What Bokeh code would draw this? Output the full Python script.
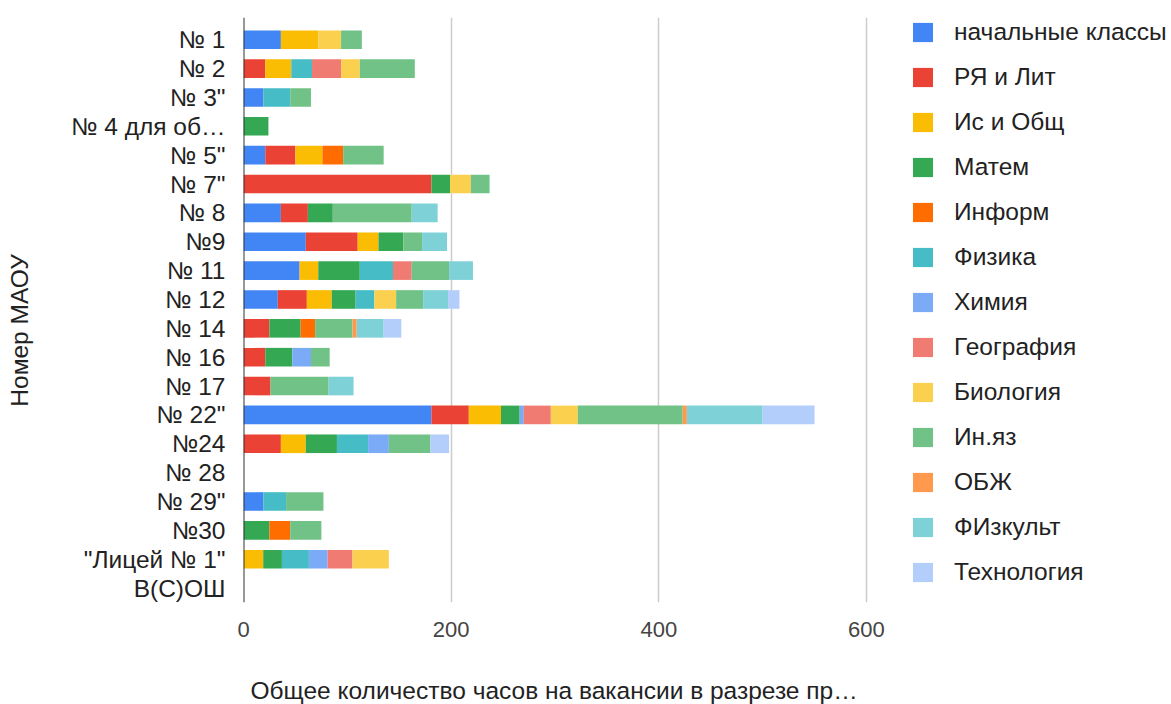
import math
from bokeh.plotting import figure
from bokeh.models import Range1d, FixedTicker, Span, Legend, LegendItem, Title
from bokeh.embed import file_html
from bokeh.resources import INLINE

schools = ["№ 1", "№ 2", "№ 3\"", "№ 4 для об…", "№ 5\"", "№ 7\"", "№ 8", "№9", "№ 11", "№ 12",
           "№ 14", "№ 16", "№ 17", "№ 22\"", "№24", "№ 28", "№ 29\"", "№30", "\"Лицей № 1\"", "В(С)ОШ"]

subjects = ["начальные классы", "РЯ и Лит", "Ис и Общ", "Матем", "Информ", "Физика", "Химия",
            "География", "Биология", "Ин.яз", "ОБЖ", "ФИзкульт", "Технология"]

nach = [36, 0, 19, 0, 21, 0, 36, 60, 54, 33, 0, 0, 0, 181, 0, 0, 19, 0, 0, 0]
rya = [0, 21, 0, 0, 29, 181, 26, 50, 0, 28, 25, 21, 26, 36, 36, 0, 0, 0, 0, 0]
isobsh = [36, 25, 0, 0, 26, 0, 0, 20, 18, 24, 0, 0, 0, 31, 24, 0, 0, 0, 19, 0]
matem = [0, 0, 0, 24, 0, 18, 24, 24, 40, 23, 30, 26, 0, 18, 30, 0, 0, 25, 18, 0]
inform = [0, 0, 0, 0, 20, 0, 0, 0, 0, 0, 14, 0, 0, 0, 0, 0, 0, 20, 0, 0]
fizika = [0, 20, 26, 0, 0, 0, 0, 0, 32, 18, 0, 0, 0, 0, 30, 0, 22, 0, 26, 0]
himiya = [0, 0, 0, 0, 0, 0, 0, 0, 0, 0, 0, 18, 0, 4, 20, 0, 0, 0, 18, 0]
geografiya = [0, 28, 0, 0, 0, 0, 0, 0, 18, 0, 0, 0, 0, 26, 0, 0, 0, 0, 24, 0]
biologiya = [22, 18, 0, 0, 0, 20, 0, 0, 0, 21, 0, 0, 0, 26, 0, 0, 0, 0, 35, 0]
inyaz = [20, 53, 20, 0, 39, 18, 76, 18, 36, 26, 36, 18, 56, 101, 40, 0, 36, 30, 0, 0]
obzh = [0, 0, 0, 0, 0, 0, 0, 0, 0, 0, 4, 0, 0, 4, 0, 0, 0, 0, 0, 0]
fizkult = [0, 0, 0, 0, 0, 0, 25, 24, 23, 24, 26, 0, 24, 73, 0, 0, 0, 0, 0, 0]
tehnologiya = [0, 0, 0, 0, 0, 0, 0, 0, 0, 11, 17, 0, 0, 50, 18, 0, 0, 0, 0, 0]

series = [nach, rya, isobsh, matem, inform, fizika, himiya, geografiya, biologiya, inyaz, obzh, fizkult, tehnologiya]

colors = ["#4285f4", "#ea4335", "#fbbc04", "#34a853", "#ff6d01", "#46bdc6", "#7baaf7",
          "#f07b72", "#fcd04f", "#71c287", "#ff994d", "#7ed1d7", "#b3cefb"]

x_ticks = [0, 200, 400, 600]
x_title = "Общее количество часов на вакансии в разрезе пр…"
y_title = "Номер МАОУ"

FONT = "Liberation Sans"
TXT = "24.5px"

# rows from top to bottom: first school at the top
n = len(schools)
ypos = [n - 1 - i for i in range(n)]

keys = [f"s{i}" for i in range(len(subjects))]
data = {"y": ypos}
for k, s in zip(keys, series):
    data[k] = s

p = figure(width=1171, height=704, output_backend="svg", toolbar_location=None,
           y_range=Range1d(-0.5, n - 1 + 0.77),
           x_range=Range1d(0, 893.8),
           min_border_left=243, min_border_right=0, min_border_top=17, min_border_bottom=101)
p.outline_line_color = None
p.background_fill_color = "white"
p.border_fill_color = "white"

renderers = p.hbar_stack(keys, y="y", height=0.645, color=colors, source=data, line_color=None)

p.xaxis.ticker = FixedTicker(ticks=x_ticks)
p.xaxis.axis_line_color = None
p.xaxis.major_tick_line_color = None
p.xaxis.minor_tick_line_color = None
p.xaxis.major_label_text_font = FONT
p.xaxis.major_label_text_font_size = "22px"
p.xaxis.major_label_text_color = "#444444"
p.xaxis.major_label_standoff = 13
p.xaxis.axis_label = " "
p.xaxis.axis_label_text_font_size = "2px"
p.xaxis.axis_label_standoff = 29

p.add_layout(Title(text=x_title, align="left", offset=7, standoff=2, vertical_align="bottom",
                   text_font=FONT, text_font_size=TXT, text_font_style="normal",
                   text_color="#222222"), "below")

p.yaxis.ticker = FixedTicker(ticks=ypos)
p.yaxis.major_label_overrides = {y: s for y, s in zip(ypos, schools)}
p.yaxis.axis_line_color = None
p.yaxis.major_tick_line_color = None
p.yaxis.minor_tick_line_color = None
p.yaxis.major_label_text_font = FONT
p.yaxis.major_label_text_font_size = TXT
p.yaxis.major_label_text_color = "#222222"
p.yaxis.major_label_standoff = 12
# trailing no-break spaces shift the centred title down to where the reference has it
p.yaxis.axis_label = y_title + "\u00a0" * 6
p.yaxis.axis_label_text_font = FONT
p.yaxis.axis_label_text_font_size = TXT
p.yaxis.axis_label_text_font_style = "normal"
p.yaxis.axis_label_text_color = "#222222"
p.yaxis.axis_label_standoff = 35

p.xgrid.grid_line_color = "#cccccc"
p.xgrid.grid_line_width = 1.5
p.ygrid.grid_line_color = None

p.add_layout(Span(location=0, dimension="height", line_color="#333333", line_width=2))

items = [LegendItem(label=s, renderers=[r]) for s, r in zip(subjects, renderers)]
legend = Legend(items=items, location=(667, 16), orientation="vertical",
                glyph_width=25, glyph_height=24, label_height=24, spacing=17,
                label_standoff=19, padding=0, margin=0,
                border_line_color=None, background_fill_alpha=0,
                label_text_font=FONT, label_text_font_size=TXT, label_text_color="#222222")
p.add_layout(legend, "center")

open("out.html", "w").write(file_html(p, INLINE))
